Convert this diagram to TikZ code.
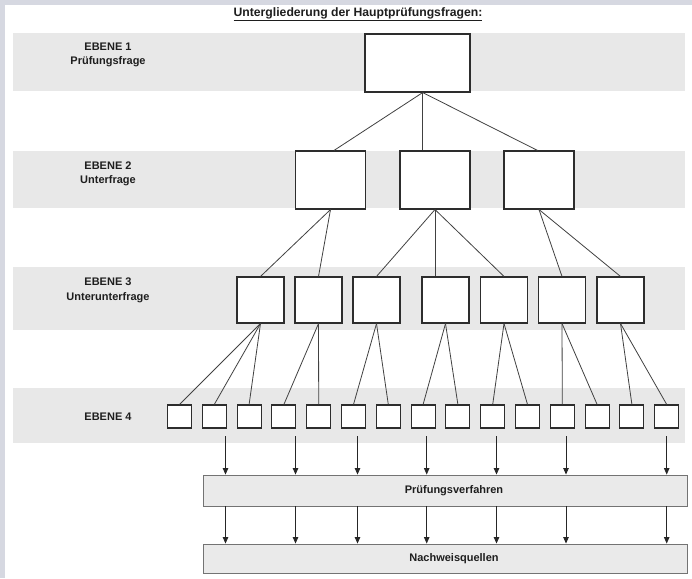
\documentclass[tikz,border=0pt]{standalone}
\usepackage{fontspec}
\setmainfont{Liberation Sans}
\usetikzlibrary{arrows.meta}
\definecolor{bandgray}{RGB}{232,232,232}
\definecolor{boxdraw}{RGB}{45,45,45}
\definecolor{linec}{RGB}{65,65,65}
\definecolor{barfill}{RGB}{234,234,234}
\definecolor{bardraw}{RGB}{115,115,115}
\definecolor{txt}{RGB}{30,30,30}
\definecolor{framec}{RGB}{214,216,225}
\begin{document}
\begin{tikzpicture}[x=1pt,y=-1pt,
  band/.style={fill=bandgray,draw=none},
  qbox/.style={draw=boxdraw,line width=1.1pt,fill=white,inner sep=0pt,minimum width=#1},
  lvl/.style={font=\bfseries\fontsize{11}{14.5}\selectfont,text=txt,align=center},
  bar/.style={draw=bardraw,line width=0.9pt,fill=barfill,inner sep=0pt,minimum width=484pt,font=\bfseries\fontsize{11}{12}\selectfont,text=txt},
  conn/.style={draw=linec,line width=0.8pt},
  arr/.style={draw=black!85,line width=0.8pt,-{Triangle[width=5.5pt,length=6.5pt]}}
]
\useasboundingbox (0,0) rectangle (692,578);
% frame of the photo
\fill[framec] (0,0) rectangle (692,578);
\fill[white] (5,5) rectangle (692,578);
% bands
\fill[band] (13,33) rectangle (685,91);
\fill[band] (13,151) rectangle (685,208);
\fill[band] (13,267) rectangle (685,330);
\fill[band] (13,388) rectangle (685,443);
% title
\node[font=\bfseries\fontsize{12.2}{14}\selectfont,text=txt] (title) at (358,14) {\underline{Untergliederung der Hauptprüfungsfragen:}};
% level labels
\node[lvl] (e1) at (108,55) {EBENE 1\\Prüfungsfrage};
\node[lvl] (e2) at (108,174) {EBENE 2\\Unterfrage};
\node[lvl] (e3) at (108,290.5) {EBENE 3\\Unterunterfrage};
\node[lvl] (e4) at (108,416.5) {EBENE 4};
% level 1
\node[qbox=105pt,minimum height=58pt] (l1) at (417.5,63) {};
% level 2
\foreach \n/\x in {a/330.5,b/435,c/539}
  \node[qbox=70pt,minimum height=58pt] (l2\n) at (\x,180) {};
% level 3
\foreach \n/\x in {a/260.5,b/318.5,c/376.5,d/445.5,e/504,f/562,g/620.5}
  \node[qbox=47pt,minimum height=46pt] (l3\n) at (\x,300) {};
% level 4
\foreach \i in {1,...,15}
  \node[qbox=24pt,minimum height=23pt] (l4\i) at ({179.5+34.8*(\i-1)},416.5) {};
% bars
\node[bar,minimum height=31pt] (pv) at (445,490.5) {\hspace*{18pt}Prüfungsverfahren};
\node[bar,minimum height=29pt] (nq) at (445,558.5) {\hspace*{18pt}Nachweisquellen};
% connectors level 1 -> 2
\coordinate (l1o) at ([xshift=5.2pt]l1.south);
\draw[conn] (l1o) -- ([xshift=3.5pt]l2a.north);
\draw[conn] (l1o) -- (l1o |- l2b.north);
\draw[conn] (l1o) -- ([xshift=-1.5pt]l2c.north);
% level 2 -> 3
\draw[conn] (l2a.south) -- (l3a.north);
\draw[conn] (l2a.south) -- (l3b.north);
\draw[conn] (l2b.south) -- (l3c.north);
\draw[conn] (l2b.south) -- (l2b.south |- l3d.north);
\draw[conn] (l2b.south) -- (l3e.north);
\draw[conn] (l2c.south) -- (l3f.north);
\draw[conn] (l2c.south) -- (l3g.north);
% level 3 -> 4
\foreach \p/\c in {a/1,a/2,a/3,b/4,b/5,c/6,c/7,d/8,d/9,e/10,e/11,f/12,f/13,g/14,g/15}
  \draw[conn] (l3\p.south) -- (l4\c.north);
% arrows
\foreach \k/\x in {1/225.5,2/295.5,3/357.5,4/426.7,5/496.5,6/566,7/666.7}{
  \coordinate (s\k) at (\x,436);
  \draw[arr] (s\k) -- (s\k |- pv.north);
  \draw[arr] (s\k |- pv.south) -- (s\k |- nq.north);
}
\end{tikzpicture}
\end{document}
